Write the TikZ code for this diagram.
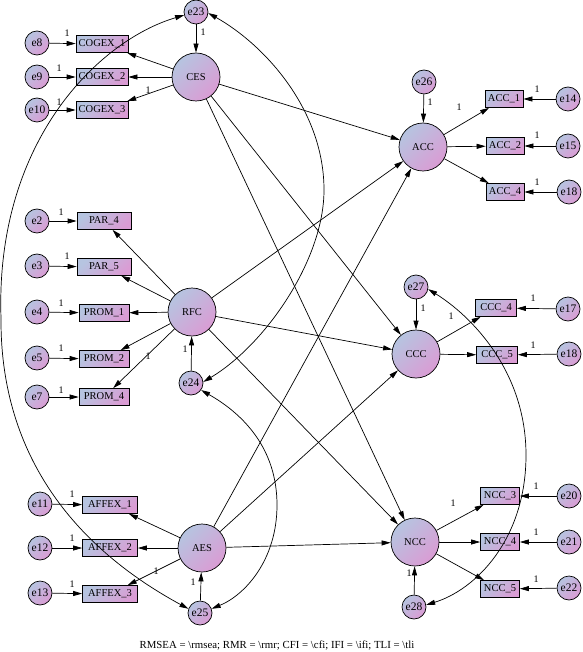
\documentclass[tikz,border=0pt]{standalone}
\usepackage{fontspec}
\setmainfont{Liberation Serif}
\usetikzlibrary{arrows.meta}
\definecolor{sblue}{RGB}{182,196,224}
\definecolor{spink}{RGB}{218,156,212}
\begin{document}
\begin{tikzpicture}[x=1pt,y=-1pt,
  base/.style={draw,line width=0.7pt,inner sep=0pt,left color=sblue,right color=spink,shading angle=45,font=\fontsize{10.5}{12}\selectfont},
  lat/.style={base,circle,minimum size=48pt},
  err/.style={base,circle,minimum size=24pt,font=\fontsize{11.5}{12}\selectfont},
  obs/.style={base,rectangle,minimum height=17pt},
  arr/.style={line width=0.7pt,-{Triangle[length=9pt,width=5pt]}},
  cov/.style={line width=0.7pt,{Triangle[length=9pt,width=5pt]}-{Triangle[length=9pt,width=5pt]}},
  one/.style={font=\fontsize{10}{12}\selectfont,inner sep=0pt}
]
\useasboundingbox (0,0) rectangle (582,652);

% latent variables
\node[lat] (CES) at (196,77) {CES};
\node[lat] (RFC) at (192,312) {RFC};
\node[lat] (AES) at (202,548) {AES};
\node[lat] (ACC) at (423,147) {ACC};
\node[lat] (CCC) at (416,354) {CCC};
\node[lat] (NCC) at (415,542) {NCC};

% disturbances
\node[err] (e23) at (196,12) {e23};
\node[err] (e24) at (191,383) {e24};
\node[err] (e25) at (200,613) {e25};
\node[err] (e26) at (424,82) {e26};
\node[err] (e27) at (416,287) {e27};
\node[err] (e28) at (414,607) {e28};

% indicators, left
\node[obs,minimum width=52pt] (COGEX1) at (102,44) {COGEX\_1};
\node[obs,minimum width=52pt] (COGEX2) at (102,77) {COGEX\_2};
\node[obs,minimum width=52pt] (COGEX3) at (102,110) {COGEX\_3};
\node[obs,minimum width=54pt] (PAR4) at (104,221) {PAR\_4};
\node[obs,minimum width=54pt] (PAR5) at (104,267) {PAR\_5};
\node[obs,minimum width=50pt] (PROM1) at (104,313) {PROM\_1};
\node[obs,minimum width=50pt] (PROM2) at (104,359) {PROM\_2};
\node[obs,minimum width=50pt] (PROM4) at (104,397) {PROM\_4};
\node[obs,minimum width=55pt] (AFFEX1) at (110,505) {AFFEX\_1};
\node[obs,minimum width=55pt] (AFFEX2) at (110,548) {AFFEX\_2};
\node[obs,minimum width=55pt] (AFFEX3) at (110,594) {AFFEX\_3};

% indicators, right
\node[obs,minimum width=38pt] (ACC1) at (504,99) {ACC\_1};
\node[obs,minimum width=38pt] (ACC2) at (505,146) {ACC\_2};
\node[obs,minimum width=38pt] (ACC4) at (505,192) {ACC\_4};
\node[obs,minimum width=41pt] (CCC4) at (496,308) {CCC\_4};
\node[obs,minimum width=41pt] (CCC5) at (497,355) {CCC\_5};
\node[obs,minimum width=39pt] (NCC3) at (500,496) {NCC\_3};
\node[obs,minimum width=39pt] (NCC4) at (500,542) {NCC\_4};
\node[obs,minimum width=39pt] (NCC5) at (500,589) {NCC\_5};

% measurement errors
\node[err] (e8) at (37,43) {e8};
\node[err] (e9) at (37,77) {e9};
\node[err] (e10) at (37,110) {e10};
\node[err] (e2) at (37,221) {e2};
\node[err] (e3) at (37,266) {e3};
\node[err] (e4) at (37,312) {e4};
\node[err] (e5) at (37,358) {e5};
\node[err] (e7) at (37,397) {e7};
\node[err] (e11) at (40,504) {e11};
\node[err] (e12) at (40,548) {e12};
\node[err] (e13) at (40,593) {e13};
\node[err] (e14) at (568,99) {e14};
\node[err] (e15) at (568,146) {e15};
\node[err] (e18a) at (569,192) {e18};
\node[err] (e17) at (568,309) {e17};
\node[err] (e18b) at (569,354) {e18};
\node[err] (e20) at (569,496) {e20};
\node[err] (e21) at (569,542) {e21};
\node[err] (e22) at (569,588) {e22};

% error -> indicator
\foreach \e/\o in {e8/COGEX1,e9/COGEX2,e10/COGEX3,e2/PAR4,e3/PAR5,e4/PROM1,e5/PROM2,e7/PROM4,e11/AFFEX1,e12/AFFEX2,e13/AFFEX3,e14/ACC1,e15/ACC2,e18a/ACC4,e17/CCC4,e18b/CCC5,e20/NCC3,e21/NCC4,e22/NCC5}
  \draw[arr] (\e) -- (\o);

% latent -> indicator
\foreach \l/\o in {CES/COGEX1,CES/COGEX2,CES/COGEX3,RFC/PAR4,RFC/PAR5,RFC/PROM1,RFC/PROM2,RFC/PROM4,AES/AFFEX1,AES/AFFEX2,AES/AFFEX3,ACC/ACC1,ACC/ACC2,ACC/ACC4,CCC/CCC4,CCC/CCC5,NCC/NCC3,NCC/NCC4,NCC/NCC5}
  \draw[arr] (\l) -- (\o);

% disturbance -> latent
\foreach \e/\l in {e23/CES,e24/RFC,e25/AES,e26/ACC,e27/CCC,e28/NCC}
  \draw[arr] (\e) -- (\l);

% structural paths
\foreach \a in {CES,RFC,AES}
  \foreach \b in {ACC,CCC,NCC}
    \draw[arr] (\a) -- (\b);

% covariances
\draw[cov] (e23.195) .. controls (100,40) and (-5,140) .. (1,318)
  .. controls (0,460) and (80,550) .. (e25.160);
\draw[cov] (e23.-5) .. controls (265,45) and (324,110) .. (324,190)
  .. controls (324,260) and (265,345) .. (e24.5);
\draw[cov] (e24.-35) .. controls (245,415) and (277,450) .. (277,505)
  .. controls (277,560) and (245,595) .. (e25.20);
\draw[cov] (e27.-10) .. controls (470,315) and (526,370) .. (526,455)
  .. controls (526,540) and (475,590) .. (e28.10);

% fixed parameters
\node[one] (l1) at (67,33) {1};
\node[one] (l2) at (59,68) {1};
\node[one] (l3) at (59,102) {1};
\node[one] (l4) at (148,90) {1};
\node[one] (l5) at (203,32) {1};
\node[one] (l6) at (430,102) {1};
\node[one] (l7) at (459,107) {1};
\node[one] (l8) at (537,89) {1};
\node[one] (l9) at (537,135) {1};
\node[one] (l10) at (537,182) {1};
\node[one] (l11) at (61,212) {1};
\node[one] (l12) at (67,256) {1};
\node[one] (l13) at (61,303) {1};
\node[one] (l14) at (61,348) {1};
\node[one] (l15) at (61,390) {1};
\node[one] (l16) at (148,356) {1};
\node[one] (l17) at (185,349) {1};
\node[one] (l18) at (423,308) {1};
\node[one] (l19) at (451,316) {1};
\node[one] (l20) at (533,298) {1};
\node[one] (l21) at (533,345) {1};
\node[one] (l22) at (72,494) {1};
\node[one] (l23) at (72,538) {1};
\node[one] (l24) at (72,584) {1};
\node[one] (l25) at (156,571) {1};
\node[one] (l26) at (193,582) {1};
\node[one] (l27) at (453,503) {1};
\node[one] (l28) at (409,573) {1};
\node[one] (l29) at (536,486) {1};
\node[one] (l30) at (536,532) {1};
\node[one] (l31) at (536,579) {1};

% caption
\node[font=\fontsize{10.8}{12}\selectfont,inner sep=0pt] (cap) at (277,646)
  {RMSEA = \textbackslash rmsea; RMR = \textbackslash rmr; CFI = \textbackslash cfi; IFI = \textbackslash ifi; TLI = \textbackslash tli};
\end{tikzpicture}
\end{document}
